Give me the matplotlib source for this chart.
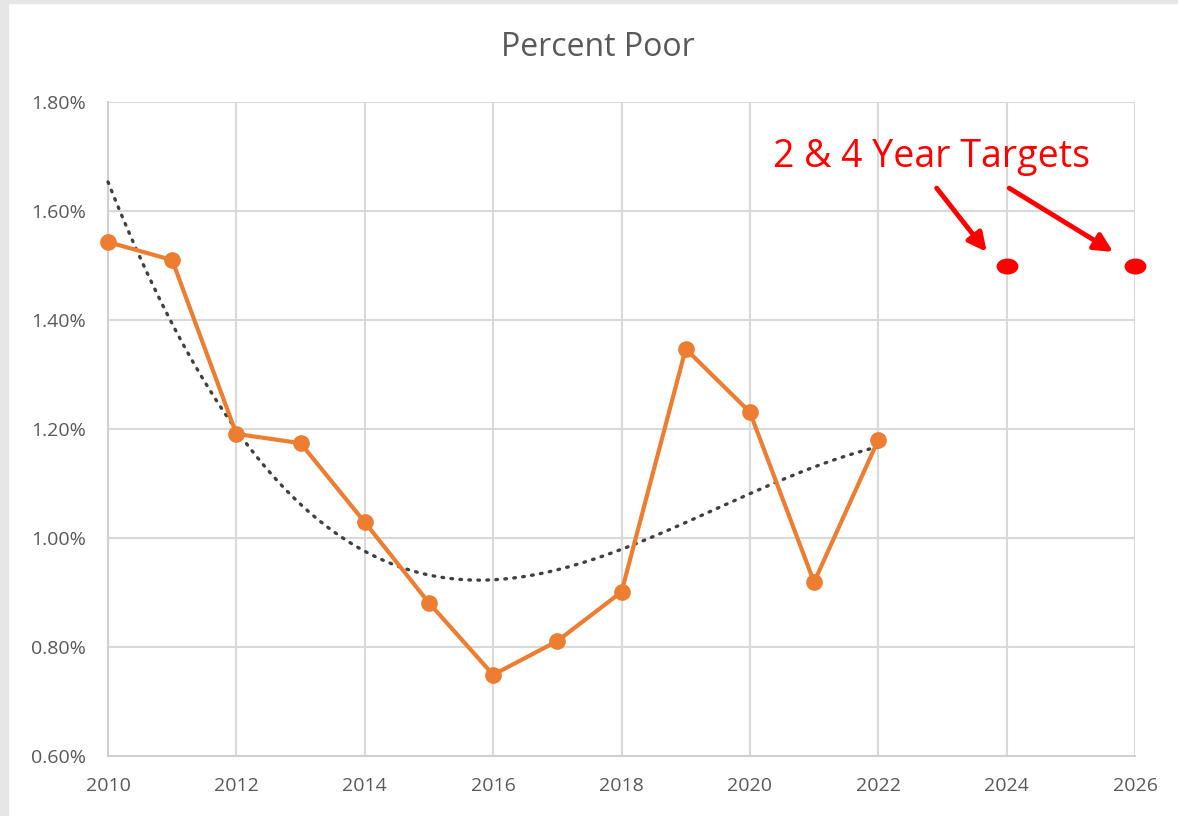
import numpy as np
import matplotlib.pyplot as plt
from matplotlib.markers import MarkerStyle
from matplotlib.patches import Rectangle
from matplotlib.transforms import Affine2D
import matplotlib.ticker as mtick

plt.rcParams['font.family'] = ['Open Sans', 'DejaVu Sans']

# dados
anos = [2010, 2011, 2012, 2013, 2014, 2015, 2016, 2017, 2018, 2019, 2020, 2021, 2022]
pct_poor = [1.543, 1.510, 1.191, 1.174, 1.029, 0.881, 0.749, 0.811, 0.901, 1.347, 1.231, 0.919, 1.180]
anos_meta = [2024, 2026]
pct_meta = [1.50, 1.50]
anotacao = "2 & 4 Year Targets"

fig = plt.figure(figsize=(11.78, 8.16), dpi=100)
ax = fig.add_axes([0.0917, 0.0735, 0.9635 - 0.0917, 0.875 - 0.0735])

# moldura cinza (borda da captura)
fig.patches.append(Rectangle((0, 0), 8 / 1178, 1, transform=fig.transFigure, color='#e6e6e6', zorder=0))
fig.patches.append(Rectangle((0, 1 - 3 / 816), 1, 3 / 816, transform=fig.transFigure, color='#e6e6e6', zorder=0))

# linha de tendencia polinomial (ordem 3)
coef = np.polyfit(anos, pct_poor, 3)
xs = np.linspace(anos[0], anos[-1], 200)
ax.plot(xs, np.polyval(coef, xs), color='#404040', lw=2.4, linestyle=(0, (0.5, 2.2)),
        dash_capstyle='round', zorder=3, clip_on=False)

ax.plot(anos, pct_poor, color='#ED7D31', lw=3, marker='o', markersize=11, zorder=4, clip_on=False)

elipse = MarkerStyle('o', transform=Affine2D().scale(1.4, 1.0))
ax.plot(anos_meta, pct_meta, linestyle='none', marker=elipse, markersize=10.5,
        color='#FF0000', zorder=5, clip_on=False)

ax.text(2020.36, 1.681, anotacao, color='#FF0000', fontsize=27, ha='left', va='baseline')
seta = dict(arrowstyle='-|>,head_length=1.1,head_width=0.55', color='#FF0000', lw=3.5,
            shrinkA=0, shrinkB=0)
ax.annotate('', xy=(2023.69, 1.525), xytext=(2022.91, 1.642), arrowprops=seta)
ax.annotate('', xy=(2025.66, 1.525), xytext=(2024.04, 1.642), arrowprops=seta)

ax.set_xlim(2010, 2026)
ax.set_ylim(0.6, 1.8)
ax.set_xticks(range(2010, 2027, 2))
ax.set_yticks(np.arange(0.6, 1.81, 0.2))
ax.yaxis.set_major_formatter(mtick.PercentFormatter(decimals=2))
ax.grid(True, color='#d9d9d9', lw=1.5)
ax.set_axisbelow(True)
for s in ['top', 'right']:
    ax.spines[s].set_visible(False)
for s in ['left', 'bottom']:
    ax.spines[s].set_color('#d0d0d0')
    ax.spines[s].set_linewidth(1.5)
ax.tick_params(length=0, labelsize=14, labelcolor='#595959')
ax.tick_params(axis='y', pad=16)
ax.tick_params(axis='x', pad=15)

fig.text(598 / 1178, 1 - 48 / 816, 'Percent Poor', fontsize=23, color='#595959',
         ha='center', va='center')

fig.savefig('out.png', dpi=100)
